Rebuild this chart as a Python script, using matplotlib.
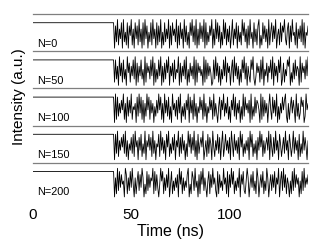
import numpy as np
import matplotlib
matplotlib.use('Agg')
import matplotlib.pyplot as plt

plt.rcParams['font.family'] = ['Liberation Sans', 'DejaVu Sans']

## data
labels = ['N=0', 'N=50', 'N=100', 'N=150', 'N=200']
switch_time = 41.0
flat_level = 1.0
end_time = 141.0
xticks = [0, 50, 100]
top_ticks = [50]

# chaotic intensity after the switch, one digit = level 0..9
trace_n0 = ("0729163809251807491608371926081937052819"
            "3608172905182639071846290718360927150849"
            "2719061837290815274906193827051938162704"
            "9163807251948260719350826179041837260915"
            "8273904618275931680729451806372918054729")
trace_n50 = ("1826093718250947163829071638250917462839"
             "0715283906172849063718254907163829051736"
             "2908174635091827364018293716052839174605"
             "8193726051849270631859203746182905371648"
             "2907361849027153869041728365091746283905")
trace_n100 = ("0918263749160827391546082938170629481736"
              "0527394816093728150946271839052617490837"
              "1926053847192605384719263058174926381507"
              "4928163705192846370915283764091827360594"
              "1837290516384792061583740926138570294618")
trace_n150 = ("0829163748291605372819460738152906483719"
              "2605481937260849152738064917283605194827"
              "3916082574903618275094163827059148362709"
              "5183627094815263709481526073948162573908"
              "4172936085147293608514927360815293740618")
trace_n200 = ("0619283745097162839406158273960418273659"
              "1827304958162739048152637094816253790418"
              "6293507184926305817394620817352946180739"
              "4815263907482159604738251960473815296047"
              "2738164905829371640518293746051829364709")
traces = [trace_n0, trace_n50, trace_n100, trace_n150, trace_n200]

fig = plt.figure(figsize=(3.27, 2.45), dpi=100)
gs = fig.add_gridspec(5, 1, left=0.101, right=0.942, top=0.943, bottom=0.184, hspace=0)

spine_col = '#7f7f7f'
for k, (lab, tr) in enumerate(zip(labels, traces)):
    ax = fig.add_subplot(gs[k])
    vals = np.array([int(c) for c in tr]) / 8.0
    t = np.linspace(switch_time + 0.5, end_time, len(vals))
    tt = np.concatenate([[0, switch_time], t])
    vv = np.concatenate([[flat_level, flat_level], vals])
    ax.plot(tt, vv, color='black', lw=0.6)
    ax.set_xlim(0, 140)
    ax.set_ylim(-0.118, 1.344)
    for s in ['left', 'right', 'bottom']:
        ax.spines[s].set_visible(False)
    ax.spines['top'].set_color(spine_col)
    ax.spines['top'].set_linewidth(0.9)
    ax.set_yticks([])
    ax.set_xticks(xticks)
    ax.set_xticks(top_ticks, minor=True)
    ax.tick_params(axis='x', which='major', top=False, bottom=False, length=0,
                   labelbottom=(k == 4), labelsize=11, pad=6)
    ax.tick_params(axis='x', which='minor', top=True, bottom=False, direction='in',
                   length=3, color=spine_col)
    ax.text(0.015, 0.2, lab, transform=ax.transAxes, fontsize=7.8, va='center', ha='left')
    if k == 4:
        ax.set_xlabel('Time (ns)', fontsize=11.5, labelpad=1)

fig.text(0.058, 0.604, 'Intensity (a.u.)', rotation=90, fontsize=11, ha='center', va='center')

fig.savefig('out.png', dpi=100)
